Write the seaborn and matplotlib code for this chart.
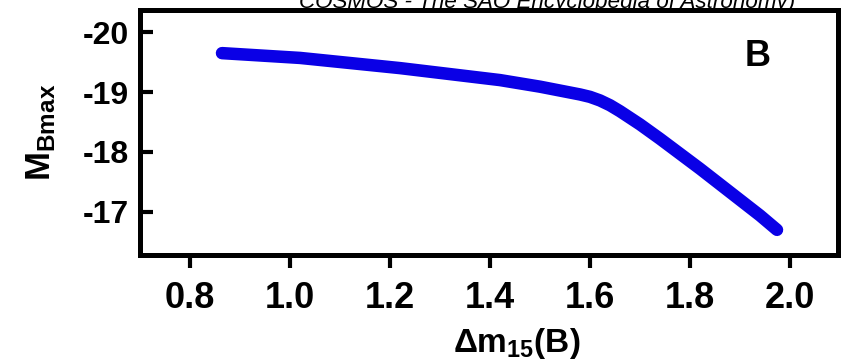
import numpy as np
import pandas as pd
import matplotlib
matplotlib.use("Agg")
import matplotlib.pyplot as plt
import seaborn as sns

# Data
dm15 = [0.864, 1.02, 1.22, 1.38, 1.42, 1.50, 1.58, 1.60, 1.62, 1.64, 1.66, 1.68, 1.70,
        1.74, 1.78, 1.82, 1.86, 1.90, 1.94, 1.974]
mbmax = [-19.65, -19.57, -19.40, -19.24, -19.20, -19.09, -18.96, -18.92, -18.86, -18.78,
         -18.68, -18.57, -18.46, -18.22, -17.97, -17.72, -17.46, -17.20, -16.94, -16.70]
xticks = [0.8, 1.0, 1.2, 1.4, 1.6, 1.8, 2.0]
yticks = [-20, -19, -18, -17]

sns.set_theme(style="white")
plt.rcParams['font.family'] = ['Liberation Sans', 'DejaVu Sans']
plt.rcParams['mathtext.fontset'] = 'custom'
plt.rcParams['mathtext.rm'] = 'Liberation Sans'
plt.rcParams['mathtext.bf'] = 'Liberation Sans:bold'
plt.rcParams['mathtext.it'] = 'Liberation Sans:italic'
plt.rcParams['text.color'] = 'black'
plt.rcParams['axes.labelcolor'] = 'black'
plt.rcParams['xtick.color'] = 'black'
plt.rcParams['ytick.color'] = 'black'

df = pd.DataFrame({"dm15": dm15, "mbmax": mbmax})

fig = plt.figure(figsize=(8.44, 3.63), dpi=100)
ax = fig.add_axes([140/844, 1 - 255/363, (838-140)/844, (255-10)/363])

sns.lineplot(data=df, x="dm15", y="mbmax", ax=ax, color="#0a00e6",
             linewidth=9, solid_capstyle="round", solid_joinstyle="round")

ax.set_xlim(0.70, 2.096)
ax.set_ylim(-16.28, -20.37)
ax.set_xticks(xticks)
ax.set_xticklabels([f"{v:.1f}" for v in xticks])
ax.set_yticks(yticks)
ax.set_yticklabels([str(v) for v in yticks])

for s in ax.spines.values():
    s.set_linewidth(3.6)
    s.set_color("black")

ax.tick_params(axis="x", direction="out", length=9, width=3, pad=10,
               labelsize=26, bottom=True, colors="black")
ax.tick_params(axis="y", direction="in", length=9, width=3, pad=8,
               labelsize=23, left=True, colors="black")
for lab in ax.get_xticklabels() + ax.get_yticklabels():
    lab.set_fontweight("bold")

ax.set_xlabel(r"$\mathbf{\Delta m_{15}(B)}$", fontsize=24, color="black")
ax.xaxis.set_label_coords(0.54, -0.29)
ax.set_ylabel(r"$\mathbf{M_{Bmax}}$", fontsize=25, color="black")
ax.yaxis.set_label_coords(-0.118, 0.5)

ax.text(0.885, 0.812, "B", transform=ax.transAxes, fontsize=26,
        fontweight="bold", ha="center", va="center", color="black")

fig.text(0.354, 0.979, "COSMOS - The SAO Encyclopedia of Astronomy)",
         fontsize=16.1, style="italic", ha="left", va="baseline", color="black",
         zorder=0)

fig.savefig("out.png", dpi=100)
